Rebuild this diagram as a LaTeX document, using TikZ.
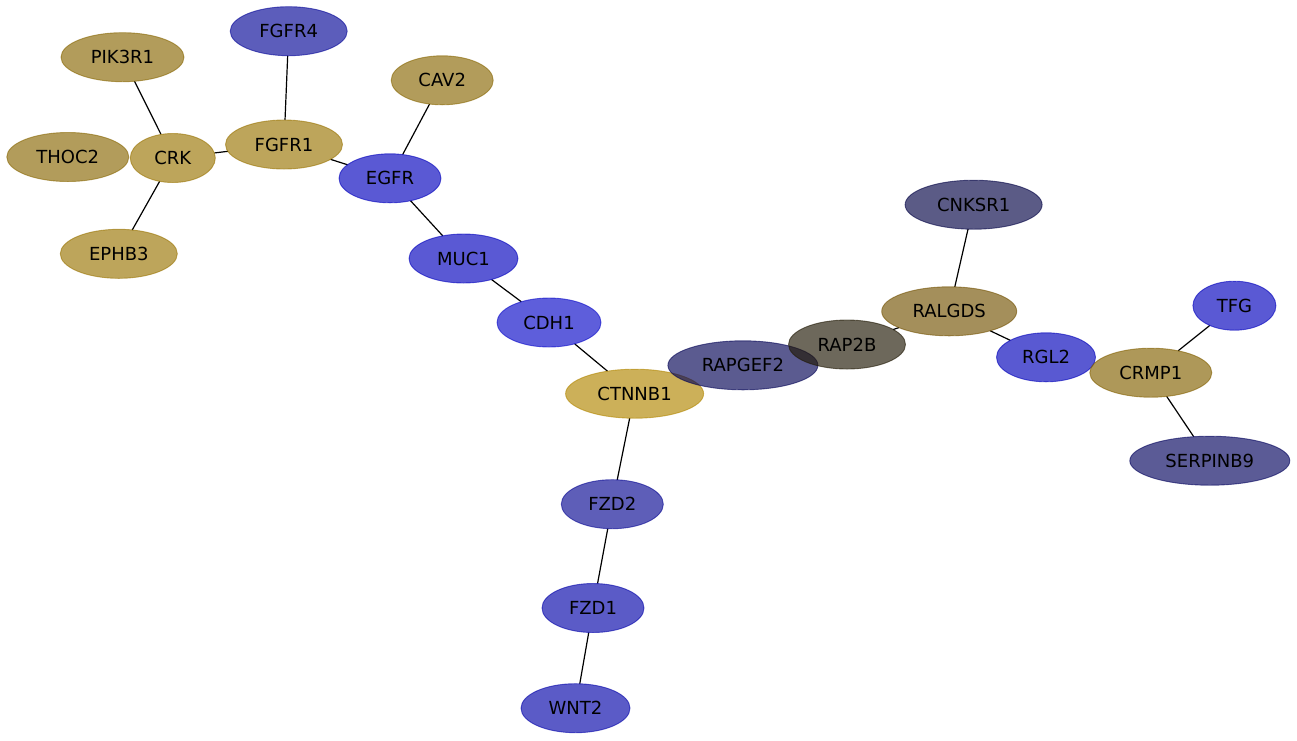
\documentclass[tikz,border=0pt]{standalone}
\usepackage{fontspec}
\setmainfont{DejaVu Sans}
\usetikzlibrary{shapes.geometric}
\pgfdeclarelayer{bg}
\pgfsetlayers{bg,main}
\definecolor{goldA}{RGB}{178,135,1}
\definecolor{goldB}{RGB}{155,117,4}
\definecolor{goldC}{RGB}{137,104,4}
\definecolor{goldD}{RGB}{116,83,4}
\definecolor{goldE}{RGB}{132,97,1}
\definecolor{rapC}{RGB}{32,24,4}
\definecolor{navyA}{RGB}{4,4,70}
\definecolor{navyB}{RGB}{4,4,86}
\definecolor{navyC}{RGB}{4,4,94}
\definecolor{blueE}{RGB}{2,1,189}
\definecolor{blueC}{RGB}{9,9,201}
\definecolor{blueF}{RGB}{6,7,152}
\definecolor{blueG}{RGB}{9,9,147}
\definecolor{blueH}{RGB}{4,4,170}
\definecolor{blueR}{RGB}{1,1,186}
\begin{document}
\begin{tikzpicture}[x=1pt,y=-1pt,
  gnode/.style={ellipse, inner sep=0pt, outer sep=0pt, minimum height=49pt,
    fill opacity=0.65, draw opacity=0.6, text opacity=1, text=black,
    font=\fontsize{18}{20}\selectfont, line width=0.9pt},
  gc/.style={gnode, fill=#1, draw=#1},
  edge/.style={draw=black, line width=1.2pt}]
\begin{pgfonlayer}{bg}
\fill[white] (0,0) rectangle (1297,740);
\end{pgfonlayer}
\useasboundingbox (0,0) rectangle (1297,740);

\node[gc=blueF, minimum width=117pt] (FGFR4) at (288.7,31.2) {FGFR4};
\node[gc=goldC, minimum width=123pt] (PIK3R1) at (122.5,57.2) {PIK3R1};
\node[gc=goldC, minimum width=102pt] (CAV2) at (442.2,80.3) {CAV2};
\node[gc=goldC, minimum width=122pt] (THOC2) at (67.8,157) {THOC2};
\node[gc=goldB, minimum width=85pt] (CRK) at (172.8,158) {CRK};
\node[gc=goldB, minimum width=117pt] (FGFR1) at (284,144.5) {FGFR1};
\node[gc=blueE, minimum width=102pt] (EGFR) at (390,178.3) {EGFR};
\node[gc=goldB, minimum width=117pt] (EPHB3) at (118.8,253.8) {EPHB3};
\node[gc=blueE, minimum width=109pt] (MUC1) at (463.5,258.5) {MUC1};
\node[gc=blueC, minimum width=104pt] (CDH1) at (549,322.5) {CDH1};
\node[gc=goldA, minimum width=138pt] (CTNNB1) at (634.6,393.7) {CTNNB1};
\node[gc=navyB, minimum width=150pt] (RAPGEF2) at (742.9,365.3) {RAPGEF2};
\node[gc=rapC, minimum width=117pt] (RAP2B) at (847,344.5) {RAP2B};
\node[gc=navyA, minimum width=137pt] (CNKSR1) at (973.6,204.7) {CNKSR1};
\node[gc=goldD, minimum width=135pt] (RALGDS) at (949.2,311.3) {RALGDS};
\node[gc=blueR, minimum width=99pt] (RGL2) at (1046,357.3) {RGL2};
\node[gc=blueE, minimum width=83pt] (TFG) at (1234.4,305.7) {TFG};
\node[gc=goldE, minimum width=122pt] (CRMP1) at (1150.8,372.7) {CRMP1};
\node[gc=navyC, minimum width=160pt] (SERPINB9) at (1209.8,460.7) {SERPINB9};
\node[gc=blueG, minimum width=102pt] (FZD2) at (612.3,504.2) {FZD2};
\node[gc=blueH, minimum width=102pt] (FZD1) at (593,608) {FZD1};
\node[gc=blueH, minimum width=109pt] (WNT2) at (575.5,708.2) {WNT2};

\begin{pgfonlayer}{bg}
\draw[edge] (FGFR4) -- (FGFR1);
\draw[edge] (PIK3R1) -- (CRK);
\draw[edge] (CRK) -- (FGFR1);
\draw[edge] (CRK) -- (EPHB3);
\draw[edge] (FGFR1) -- (EGFR);
\draw[edge] (CAV2) -- (EGFR);
\draw[edge] (EGFR) -- (MUC1);
\draw[edge] (MUC1) -- (CDH1);
\draw[edge] (CDH1) -- (CTNNB1);
\draw[edge] (CTNNB1) -- (FZD2);
\draw[edge] (FZD2) -- (FZD1);
\draw[edge] (FZD1) -- (WNT2);
\draw[edge] (RAP2B) -- (RALGDS);
\draw[edge] (CNKSR1) -- (RALGDS);
\draw[edge] (RALGDS) -- (RGL2);
\draw[edge] (CRMP1) -- (TFG);
\draw[edge] (CRMP1) -- (SERPINB9);
\end{pgfonlayer}
\end{tikzpicture}
\end{document}
